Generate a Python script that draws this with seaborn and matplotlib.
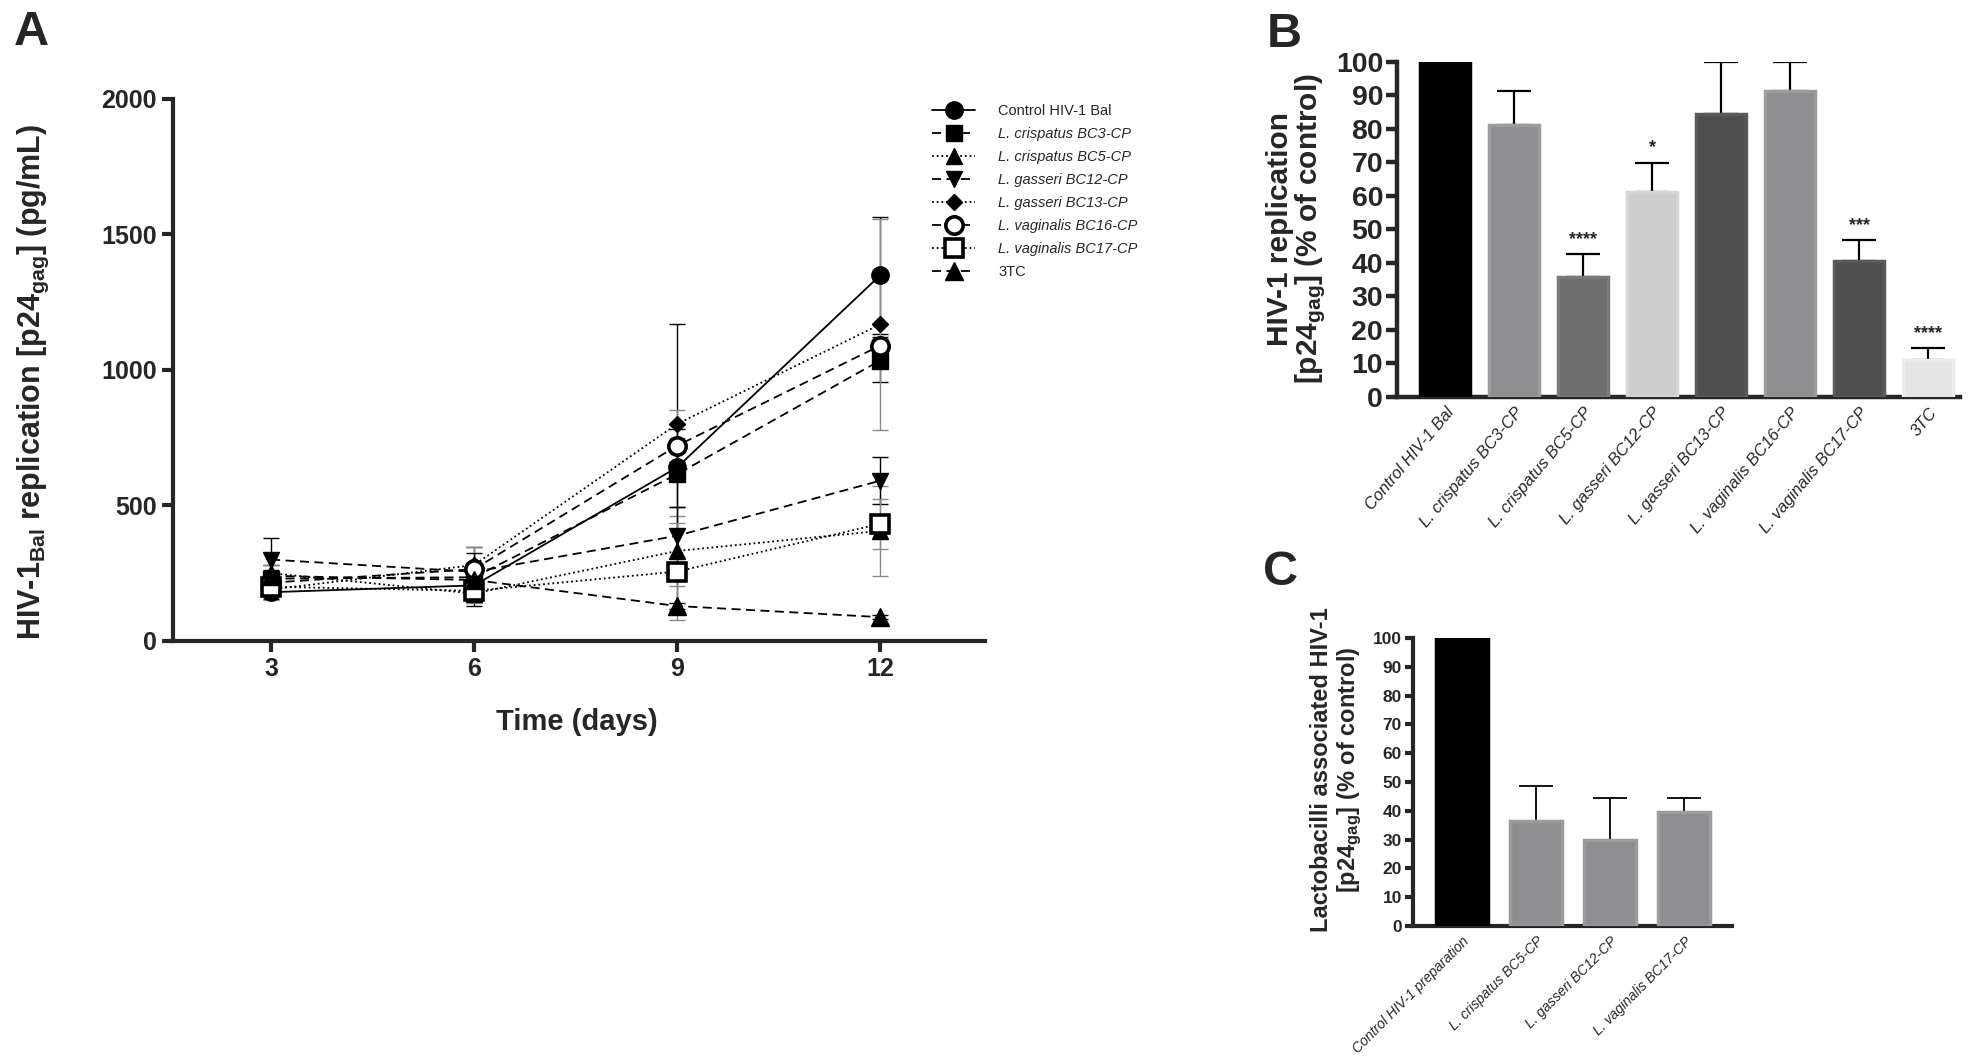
import matplotlib
matplotlib.use("Agg")
import matplotlib.pyplot as plt  # noqa: E402
import numpy as np  # noqa: E402
import pandas as pd  # noqa: E402
import seaborn as sns  # noqa: E402
from matplotlib import font_manager  # noqa: E402

W, H = 1980, 1060

# ---------------- data ----------------
DAYS = [3, 6, 9, 12]
SERIES = ["Control HIV-1 Bal", "L. crispatus BC3-CP", "L. crispatus BC5-CP",
          "L. gasseri BC12-CP", "L. gasseri BC13-CP", "L. vaginalis BC16-CP",
          "L. vaginalis BC17-CP", "3TC"]
CONTROL = [180, 205, 640, 1348]
BC3 = [230, 235, 615, 1034]
BC5 = [250, 175, 332, 406]
BC12 = [300, 255, 388, 591]
BC13 = [190, 280, 800, 1167]
BC16 = [215, 265, 720, 1089]
BC17 = [200, 185, 256, 432]
TC3 = [240, 225, 129, 88]
CONTROL_SD = [25, 76, 530, 215]
BC3_SD = [50, 40, 120, 80]
BC5_SD = [30, 30, 130, 166]
BC12_SD = [78, 90, 105, 86]
BC13_SD = [40, 67, 52, 390]
BC16_SD = [30, 61, 60, 30]
BC17_SD = [30, 45, 180, 92]
TC3_SD = [20, 20, 10, 8]

B_GROUPS = SERIES
B_VALUES = [100, 81.1, 35.8, 61.2, 84.4, 91.4, 40.6, 10.9]
B_UPPER = [100, 91.2, 42.6, 69.9, 100, 100, 46.8, 14.6]
B_STARS = ["", "", "****", "*", "", "", "***", "****"]

C_GROUPS = ["Control HIV-1 preparation", "L. crispatus BC5-CP",
            "L. gasseri BC12-CP", "L. vaginalis BC17-CP"]
C_VALUES = [100, 36.6, 29.9, 39.5]
C_UPPER = [100, 48.6, 44.3, 44.6]

# ---------------- style ----------------
sns.set_theme(style="ticks")
_names = {f.name for f in font_manager.fontManager.ttflist}
FONT = "Liberation Sans Narrow" if "Liberation Sans Narrow" in _names else "Liberation Sans"
plt.rcParams["font.family"] = [FONT, "DejaVu Sans"]
plt.rcParams["mathtext.fontset"] = "custom"
plt.rcParams["mathtext.rm"] = FONT
plt.rcParams["mathtext.bf"] = FONT + ":bold"
plt.rcParams["mathtext.it"] = FONT + ":italic"

DASH = (0, (5, 3))
DOT = (0, (1, 1.6))
STYLE = {
    "Control HIV-1 Bal":    dict(ls="-", m="o", ms=12.5, fc="black", mew=1, ec="black"),
    "L. crispatus BC3-CP":  dict(ls=DASH, m="s", ms=11.5, fc="black", mew=1, ec="black"),
    "L. crispatus BC5-CP":  dict(ls=DOT, m="^", ms=11.5, fc="black", mew=1, ec="#8a8a8a"),
    "L. gasseri BC12-CP":   dict(ls=DASH, m="v", ms=11.5, fc="black", mew=1, ec="black"),
    "L. gasseri BC13-CP":   dict(ls=DOT, m="D", ms=8.5, fc="black", mew=1, ec="#8a8a8a"),
    "L. vaginalis BC16-CP": dict(ls=DASH, m="o", ms=12.5, fc="white", mew=2.6, ec="black"),
    "L. vaginalis BC17-CP": dict(ls=DOT, m="s", ms=12.5, fc="white", mew=2.6, ec="#8a8a8a"),
    "3TC":                  dict(ls=DASH, m="^", ms=13.5, fc="black", mew=1, ec="black"),
}


def style_axis(ax, lw=3, tick_len=8, labelsize=18, pad=3.5):
    sns.despine(ax=ax)
    for side in ("left", "bottom"):
        ax.spines[side].set_linewidth(lw)
    ax.tick_params(width=lw, length=tick_len, labelsize=labelsize, direction="out", pad=pad)
    for lab in ax.get_yticklabels():
        lab.set_fontweight("bold")
    ax.set_xlabel("")
    ax.set_ylabel("")


fig = plt.figure(figsize=(W / 100, H / 100), dpi=100)

# ---------------- A: time course ----------------
axA = fig.add_axes([173 / W, 1 - 641 / H, (985 - 173) / W, (641 - 98.5) / H])
means = [CONTROL, BC3, BC5, BC12, BC13, BC16, BC17, TC3]
sds = [CONTROL_SD, BC3_SD, BC5_SD, BC12_SD, BC13_SD, BC16_SD, BC17_SD, TC3_SD]
handles = []
for name, mean, sd in zip(SERIES, means, sds):
    st = STYLE[name]
    axA.errorbar(DAYS, mean, yerr=sd, fmt="none", ecolor=st["ec"], elinewidth=1.0,
                 capsize=6, capthick=1.0, zorder=2)
    sns.lineplot(x=DAYS, y=mean, ax=axA, color="black", linestyle=st["ls"], lw=1.3,
                 marker=st["m"], markersize=st["ms"], markerfacecolor=st["fc"],
                 markeredgecolor="black", markeredgewidth=st["mew"], label=name,
                 zorder=3, legend=False)
    handles.append(axA.lines[-1])

axA.set_xlim(1.55, 13.55)
axA.set_ylim(0, 2000)
axA.set_xticks(DAYS)
axA.set_yticks(np.arange(0, 2001, 500))
style_axis(axA, lw=3, tick_len=8, labelsize=18)
for lab in axA.get_xticklabels():
    lab.set_fontweight("bold")

leg = axA.legend(handles, SERIES, loc="upper left", bbox_to_anchor=(932 / W, 1 - 104 / H),
                 bbox_transform=fig.transFigure, frameon=False, fontsize=10.5,
                 handlelength=2.95, handletextpad=1.6, labelspacing=0.62,
                 borderaxespad=0, borderpad=0, numpoints=1)
for i, txt in enumerate(leg.get_texts()):
    if 0 < i < 7:
        txt.set_fontstyle("italic")

fig.text(33 / W, 1 - 382 / H,
         r"HIV-1$_{\mathbf{Bal}}$ replication [p24$_{\mathbf{gag}}$] (pg/mL)",
         rotation=90, ha="center", va="center", fontsize=22, fontweight="bold")
fig.text(577 / W, 1 - 722 / H, "Time (days)", ha="center", va="center",
         fontsize=21, fontweight="bold")

# ---------------- B: replication bars ----------------
B_COLORS = ["#000000", "#8e8e90", "#6e6e6e", "#cdcdcd", "#4e4e4e", "#8e8e90", "#4e4e4e", "#e4e4e4"]
B_EDGES = ["#000000", "#9c9c9e", "#7a7a7a", "#d6d6d6", "#5a5a5a", "#9c9c9e", "#5a5a5a", "#ececec"]
dfB = pd.DataFrame({"group": B_GROUPS, "value": B_VALUES})
axB = fig.add_axes([1397 / W, 1 - 396.7 / H, (1960 - 1397) / W, (396.7 - 61.7) / H])
sns.barplot(data=dfB, x="group", y="value", hue="group", palette=B_COLORS, width=0.72,
            saturation=1, legend=False, ax=axB, zorder=3)
for patch, ec in zip(axB.patches, B_EDGES):
    patch.set_edgecolor(ec)
    patch.set_linewidth(2.5)
b_err = np.array(B_UPPER) - np.array(B_VALUES)
axB.errorbar(np.arange(len(B_VALUES)), B_VALUES, yerr=[np.zeros(len(b_err)), b_err],
             fmt="none", ecolor="black", elinewidth=1.6, capsize=12, capthick=1.6, zorder=2)
for i, (top, star) in enumerate(zip(B_UPPER, B_STARS)):
    if star:
        axB.text(i, top + 1.8, star, ha="center", va="bottom", fontsize=13, fontweight="bold")
axB.set_xlim(-0.70, 7.46)
axB.set_ylim(0, 100)
axB.set_yticks(np.arange(0, 101, 10))
style_axis(axB, lw=3.2, tick_len=8, labelsize=20.5, pad=2)
axB.tick_params(axis="x", length=0, pad=6)
axB.set_xticks(np.arange(len(B_GROUPS)))
axB.set_xticklabels(B_GROUPS, rotation=50, ha="right", rotation_mode="anchor",
                    fontsize=12, fontstyle="italic")
fig.text(1297 / W, 1 - 229 / H, "HIV-1 replication\n[p24$_{\\mathbf{gag}}$] (% of control)",
         rotation=90, ha="center", va="center", fontsize=21.5, fontweight="bold",
         linespacing=0.95, multialignment="center")

# ---------------- C: associated HIV-1 ----------------
C_COLORS = ["#000000", "#8e8e90", "#8e8e90", "#8e8e90"]
C_EDGES = ["#000000", "#9c9c9e", "#9c9c9e", "#9c9c9e"]
dfC = pd.DataFrame({"group": C_GROUPS, "value": C_VALUES})
axC = fig.add_axes([1413 / W, 1 - 926 / H, (1732 - 1413) / W, (926 - 638) / H])
sns.barplot(data=dfC, x="group", y="value", hue="group", palette=C_COLORS, width=0.70,
            saturation=1, legend=False, ax=axC, zorder=3)
for patch, ec in zip(axC.patches, C_EDGES):
    patch.set_edgecolor(ec)
    patch.set_linewidth(2.5)
c_err = np.array(C_UPPER) - np.array(C_VALUES)
axC.errorbar(np.arange(len(C_VALUES)), C_VALUES, yerr=[np.zeros(len(c_err)), c_err],
             fmt="none", ecolor="black", elinewidth=1.3, capsize=12, capthick=1.3, zorder=2)
axC.set_xlim(-0.655, 3.64)
axC.set_ylim(0, 100)
axC.set_yticks(np.arange(0, 101, 10))
style_axis(axC, lw=3, tick_len=6, labelsize=12.5, pad=2)
axC.tick_params(axis="x", length=0, pad=6)
axC.set_xticks(np.arange(len(C_GROUPS)))
axC.set_xticklabels(C_GROUPS, rotation=45, ha="right", rotation_mode="anchor",
                    fontsize=10, fontstyle="italic")
fig.text(1337 / W, 1 - 770 / H,
         "Lactobacilli associated HIV-1\n[p24$_{\\mathbf{gag}}$] (% of control)",
         rotation=90, ha="center", va="center", fontsize=17, fontweight="bold",
         linespacing=1.1, multialignment="center")

# panel letters
for letter, x, y in [("A", 14, 10), ("B", 1267, 12), ("C", 1263, 550)]:
    fig.text(x / W, 1 - y / H, letter, ha="left", va="top", fontsize=35, fontweight="bold")

fig.savefig("out.png", dpi=100)
